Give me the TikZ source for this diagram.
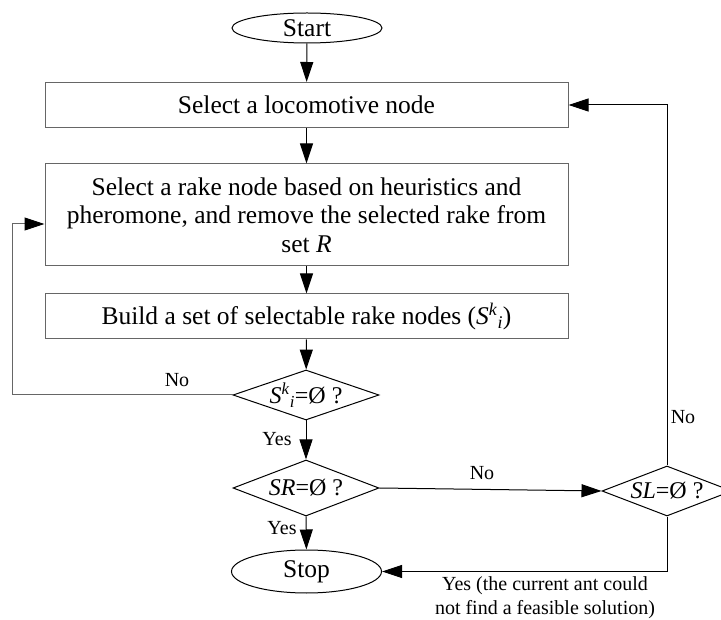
\documentclass[tikz,border=0pt]{standalone}
\usepackage{fontspec}
\setmainfont{Liberation Serif}
\usetikzlibrary{shapes.geometric,arrows.meta,positioning}

\begin{document}
\begin{tikzpicture}[
    x=1pt, y=-1pt,
    font=\fontsize{25.5}{28.5}\selectfont,
    terminal/.style={ellipse, draw, line width=1pt, minimum width=150pt, inner sep=0pt},
    process/.style={rectangle, draw=black!60, line width=1pt, minimum width=523pt, minimum height=45pt, align=center},
    decision/.style={diamond, draw, line width=1pt, inner sep=0pt},
    flow/.style={-{Triangle[length=20pt,width=13pt,color=black]}, line width=1pt},
    answer/.style={font=\fontsize{20}{24}\selectfont, align=center}
]
\useasboundingbox (0,0) rectangle (721,620);

% Start and main steps
\node[terminal, minimum height=30pt] (start) at (307,28) {Start};
\node[process] (loco) at (306.5,105) {Select a locomotive node};
\node[process, minimum height=102pt] (rake) at (306.5,215) {Select a rake node based on heuristics and\\pheromone, and remove the selected rake from\\set \textit{R}};
\node[process] (build) at (306.5,316.5) {Build a set of selectable rake nodes (\textit{S}\textsuperscript{\textit{k}}\textsubscript{\textit{i}})};

% Decisions
\node[decision, minimum width=146pt, minimum height=50pt, label={[font=\fontsize{24}{28}\selectfont]center:\textit{S}\textsuperscript{\textit{k}}\textsubscript{\textit{i}}=Ø ?}] (d1) at (306,395) {};
\node[decision, minimum width=146pt, minimum height=56pt, label={[font=\fontsize{24}{28}\selectfont]center:\textit{SR}=Ø ?}] (d2) at (306,488) {};
\node[decision, minimum width=130pt, minimum height=50pt, label={[font=\fontsize{24}{28}\selectfont]center:\textit{SL}=Ø ?}] (sl) at (667,491) {};

% Stop
\node[terminal, minimum height=43pt] (stop) at (306.5,571.5) {Stop};

% Labels
\node[answer] (no1) at (177,380) {No};
\node[answer] (yes1) at (277,439) {Yes};
\node[answer] (yes2) at (282,528) {Yes};
\node[answer] (no2) at (482,473) {No};
\node[answer] (no3) at (683,417) {No};
\node[answer] (yes3) at (545,598) {Yes (the current ant could\\not find a feasible solution)};

% Connections
\draw[flow] (start) -- (loco);
\draw[flow] (loco) -- (rake);
\draw[flow] (rake) -- (build);
\draw[flow] (build) -- (d1);
\draw[flow] (d1) -- (d2);
\draw[flow] (d2) -- (stop);
\draw[flow] (d2.east) -- (sl.west);
\draw[flow] (sl.south) |- (stop.east);
\draw[flow] (sl.north) |- (loco.east);

% Loop back to rake selection
\coordinate (back) at (12,224);
\draw[flow, draw=black!60] (d1.west) -| (back) -- (back -| rake.west);

\end{tikzpicture}
\end{document}
